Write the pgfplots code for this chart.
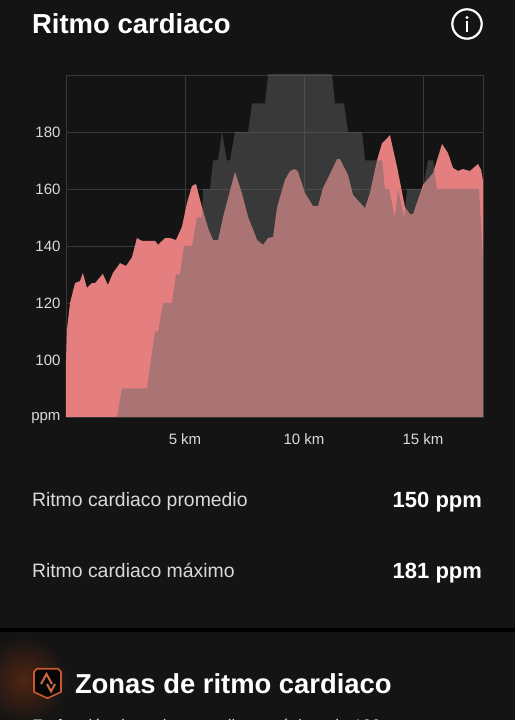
\documentclass[border=0pt]{standalone}
\usepackage{pgfplots}
\pgfplotsset{compat=1.18}
\usepackage{fontspec}
\setmainfont{Liberation Sans}
\definecolor{bg}{HTML}{141414}
\definecolor{hr}{HTML}{E57F7F}
\definecolor{elev}{HTML}{676767}
\definecolor{gridc}{HTML}{383838}
\definecolor{ticktxt}{HTML}{DADADA}
\definecolor{iconc}{HTML}{C8592E}
\definecolor{glow}{HTML}{4E2512}
\pgfplotstableread{
km ppm
0.00 80
0.00 100
0.04 110.5
0.17 120
0.38 127
0.59 127.7
0.71 130.5
0.88 125.3
1.09 127
1.22 127
1.55 130.2
1.76 126.3
1.97 130.5
2.27 134
2.52 133
2.77 136
2.98 142.8
3.19 141.8
3.74 141.8
3.87 140.4
4.16 142.8
4.37 142.8
4.62 142.1
4.87 146.7
5.08 155
5.29 161
5.46 161.8
5.71 153.7
5.97 146.3
6.18 142.1
6.39 142.1
6.60 150.2
7.10 166
7.39 158.6
7.65 150.2
8.03 142.1
8.28 140.4
8.49 142.8
8.70 143.2
8.87 153.7
9.20 163.2
9.41 166.3
9.62 167
9.75 166
10.04 158.6
10.38 154
10.59 154
10.80 160.4
11.01 163.9
11.39 170.5
11.51 170.5
11.85 164.9
12.06 157.9
12.56 153.3
12.77 158.6
13.07 170.2
13.28 176.1
13.40 177
13.61 178.9
13.91 167.7
14.24 153.7
14.45 151.2
14.58 151.2
15.00 161.4
15.42 165.6
15.80 175.8
16.05 172.6
16.26 167.4
16.47 166.3
16.68 167
16.97 166.3
17.31 168.8
17.44 166.7
17.52 163
17.52 80
}\hrdata
\pgfplotstableread{
km ppm
2.14 80
2.35 90
3.40 90
3.74 110
3.87 110
4.08 120
4.45 120
4.62 130
4.79 130
4.96 140
5.29 140
5.50 150
5.71 150
5.76 160
6.05 160
6.18 170
6.39 170
6.55 180
6.76 170
6.89 170
7.10 180
7.65 180
7.82 190
8.36 190
8.49 200
8.70 210
11.10 210
11.18 200
11.30 190
11.68 190
11.85 180
12.44 180
12.56 170
13.28 170
13.40 160
13.57 160
13.82 150
13.95 160
14.20 150
14.33 160
15.00 160
15.21 170
15.42 170
15.59 160
17.35 160
17.52 135
17.52 80
}\elevdata
\begin{document}
\begin{tikzpicture}
\begin{scope}[x=1pt,y=1pt,every node/.style={inner sep=0pt,outer sep=0pt}]
\useasboundingbox (0,0) rectangle (515,720);
\fill[bg] (0,0) rectangle (515,720);
% separator
\fill[black] (0,87.5) rectangle (515,92);
% glow
\begin{scope}
\clip (0,0) rectangle (515,87.5);
\shade[inner color=glow, outer color=bg] (24,40) circle (44);
\end{scope}
% header
\node[anchor=base west,text=white,font=\fontsize{27.5}{30}\selectfont\bfseries] at (32,686) {Ritmo cardiaco};
\draw[white,line width=2.2pt] (467,696) circle (14.7);
\fill[white] (467,702.5) circle (1.7);
\fill[white] (465.9,687.5) rectangle (468.1,699);
\end{scope}
% chart
\begin{axis}[
  at={(66pt,303pt)},anchor=south west,
  width=417pt,height=342pt,scale only axis,
  xmin=0,xmax=17.52,ymin=80,ymax=200,
  axis line style={gridc,line width=0.8pt},
  xtick={5,10,15},xticklabels={5 km,10 km,15 km},
  ytick={80,100,120,140,160,180},
  yticklabels={\raisebox{-4pt}[0pt][0pt]{ppm},100,120,140,160,180},
  grid=major,
  grid style={gridc,line width=0.8pt},
  tick style={draw=none},
  tick label style={text=ticktxt,font=\fontsize{15}{17}\selectfont},
  /pgf/number format/assume math mode=true,
  xticklabel style={yshift=-13pt},
  yticklabel style={xshift=-2pt},
]
\addplot[fill=hr,draw=none] table[x=km,y=ppm] {\hrdata};
\addplot[fill=elev,fill opacity=0.455,draw=none] table[x=km,y=ppm] {\elevdata};
\end{axis}
\begin{scope}[x=1pt,y=1pt,every node/.style={inner sep=0pt,outer sep=0pt}]
% stats
\node[anchor=base west,text=ticktxt,font=\fontsize{19.4}{22}\selectfont] at (32,213) {Ritmo cardiaco promedio};
\node[anchor=base east,text=white,font=\fontsize{22}{24}\selectfont\bfseries] at (482,212) {150 ppm};
\node[anchor=base west,text=ticktxt,font=\fontsize{19.4}{22}\selectfont] at (32,142) {Ritmo cardiaco máximo};
\node[anchor=base east,text=white,font=\fontsize{22}{24}\selectfont\bfseries] at (482,141) {181 ppm};
% icon
\draw[iconc,line width=1.6pt,line join=round,fill=black!70!bg] (37,51.2) -- (58,51.2) -- (61,48.2) -- (61,28) -- (47.5,21.8) -- (34,28) -- (34,48.2) -- cycle;
\draw[iconc!90!white,line width=2pt,line join=miter] (41,36) -- (46.5,46) -- (52,36);
\draw[iconc!90!white,line width=2pt,line join=miter] (47,36) -- (51,28.5) -- (55,36);
\node[anchor=base west,text=white,font=\fontsize{27.4}{32}\selectfont\bfseries] at (75,27) {Zonas de ritmo cardiaco};
\begin{scope}
\clip (0,0) rectangle (515,6);
\node[anchor=base west,text=ticktxt,font=\fontsize{16.7}{19}\selectfont] at (32,-11) {En función de tu ritmo cardiaco máximo de 190};
\end{scope}
\end{scope}
\end{tikzpicture}
\end{document}
